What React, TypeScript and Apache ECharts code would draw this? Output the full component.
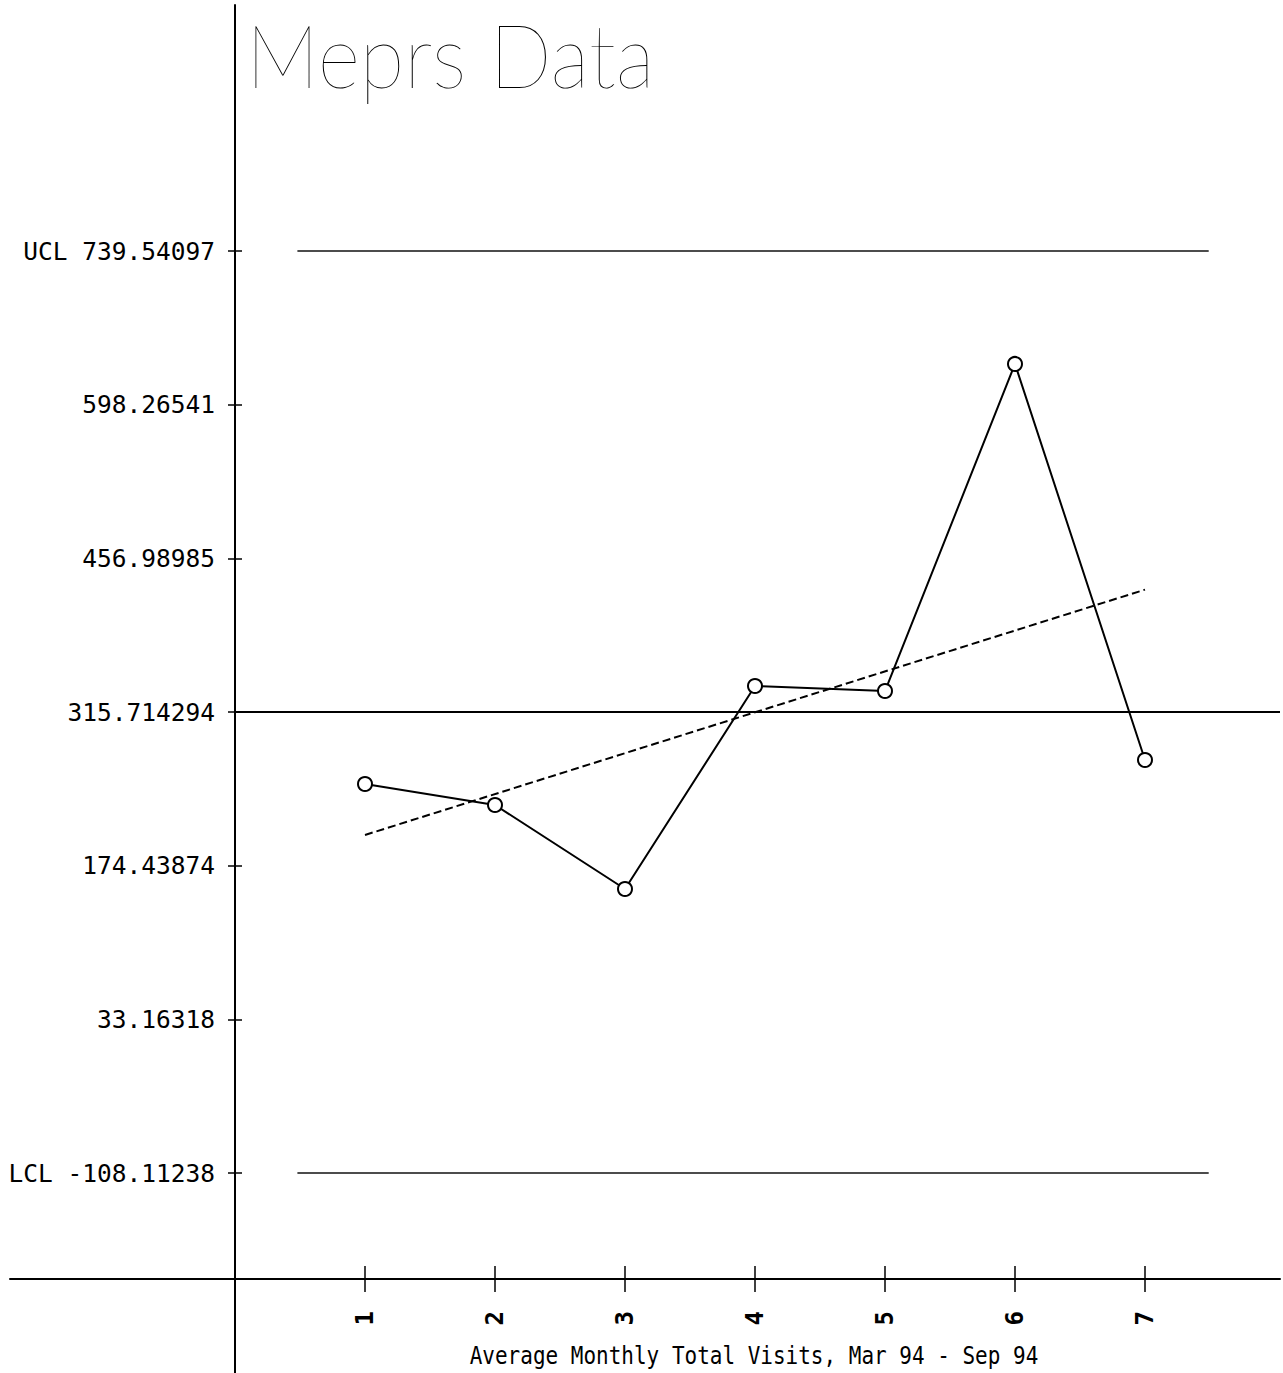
import React, { useEffect, useRef } from "react";
import * as echarts from "echarts";

// ---- data ----
const months = [1, 2, 3, 4, 5, 6, 7];
const monthLabels = ["1", "2", "3", "4", "5", "6", "7"];
const visits = [249.5, 230.2, 153.0, 339.6, 335.0, 635.7, 271.6];
const trendMonths = [1, 7];
const trendValues = [202.7, 428.2];
const yTickValues = [739.54097, 598.26541, 456.98985, 315.714294, 174.43874, 33.16318, -108.11238];
const yTickLabels = ["UCL 739.54097", "598.26541", "456.98985", "315.714294", "174.43874", "33.16318", "LCL -108.11238"];
const ucl = 739.54097;
const centerLine = 315.714294;
const lcl = -108.11238;
const limitSpan = [0.48, 7.49];
const titleText = "Meprs Data";
const xTitle = "Average Monthly Total Visits, Mar 94 - Sep 94";

const MONO = "'DejaVu Sans Mono', 'Liberation Mono', monospace";

export default function App() {
  const ref = useRef<HTMLDivElement>(null);
  useEffect(() => {
    if (!ref.current) return;
    const chart = echarts.init(ref.current, undefined, { renderer: "svg" });
    const yFmt = (v: number) => {
      let best = 0;
      let bd = Infinity;
      yTickValues.forEach((t, i) => {
        const d = Math.abs(t - v);
        if (d < bd) { bd = d; best = i; }
      });
      return yTickLabels[best];
    };
    const xFmt = (v: number) => {
      const i = months.findIndex((m) => Math.abs(m - v) < 1e-6);
      return i >= 0 ? monthLabels[i] : "";
    };
    const yMin = -291.96;
    const yMax = 965.7;
    const xMin = -1.7308;
    const xMax = 8.0385;
    const yOffset = -225; // moves the y axis from the grid's left edge to x = 0
    chart.setOption({
      animation: false,
      backgroundColor: "#ffffff",
      grid: { left: 10, right: 3, top: 5, bottom: 0, containLabel: false, outerBoundsMode: "none" },
      xAxis: [
        {
          type: "value",
          min: xMin,
          max: xMax,
          position: "bottom",
          offset: -94,
          splitLine: { show: false },
          axisLine: { show: true, onZero: false, lineStyle: { color: "#000", width: 2 } },
          axisTick: { show: true, customValues: months, length: 13, lineStyle: { color: "#000", width: 1.5 } },
          axisLabel: {
            show: true,
            customValues: months,
            rotate: 90,
            margin: 32,
            fontSize: 24,
            fontWeight: "bold",
            fontFamily: MONO,
            color: "#000",
            formatter: xFmt,
          },
        },
        {
          type: "value",
          min: xMin,
          max: xMax,
          position: "bottom",
          offset: -94,
          splitLine: { show: false },
          axisLine: { show: false, onZero: false },
          axisTick: { show: true, inside: true, customValues: months, length: 13, lineStyle: { color: "#000", width: 1.5 } },
          axisLabel: { show: false },
        },
      ],
      yAxis: [
        {
          type: "value",
          min: yMin,
          max: yMax,
          position: "left",
          offset: yOffset,
          splitLine: { show: false },
          axisLine: { show: true, onZero: false, lineStyle: { color: "#000", width: 2 } },
          axisTick: { show: true, customValues: yTickValues, length: 7, lineStyle: { color: "#000", width: 1.5 } },
          axisLabel: {
            show: true,
            customValues: yTickValues,
            margin: 20,
            fontSize: 24.5,
            fontFamily: MONO,
            color: "#000",
            formatter: yFmt,
          },
        },
        {
          type: "value",
          min: yMin,
          max: yMax,
          position: "left",
          offset: yOffset,
          splitLine: { show: false },
          axisLine: { show: false, onZero: false },
          axisTick: { show: true, inside: true, customValues: yTickValues, length: 7, lineStyle: { color: "#000", width: 1.5 } },
          axisLabel: { show: false },
        },
      ],
      series: [
        {
          name: "Visits",
          type: "line",
          xAxisIndex: 0,
          yAxisIndex: 0,
          data: months.map((m, i) => [m, visits[i]]),
          symbol: "emptyCircle",
          symbolSize: 14,
          lineStyle: { color: "#000", width: 2 },
          itemStyle: { color: "#000", borderColor: "#000", borderWidth: 2 },
          z: 5,
          markLine: {
            silent: true,
            symbol: ["none", "none"],
            label: { show: false },
            data: [
              [
                { coord: [0, centerLine], lineStyle: { color: "#000", width: 2, type: "solid" } },
                { coord: [xMax, centerLine] },
              ],
              [
                { coord: [limitSpan[0], ucl], lineStyle: { color: "#111", width: 1.5, type: "solid" } },
                { coord: [limitSpan[1], ucl] },
              ],
              [
                { coord: [limitSpan[0], lcl], lineStyle: { color: "#111", width: 1.5, type: "solid" } },
                { coord: [limitSpan[1], lcl] },
              ],
            ],
          },
        },
        {
          name: "Trend",
          type: "line",
          xAxisIndex: 0,
          yAxisIndex: 0,
          data: trendMonths.map((m, i) => [m, trendValues[i]]),
          symbol: "none",
          lineStyle: { color: "#000", width: 2, type: [8, 4] },
          z: 4,
        },
      ],
      graphic: [
        {
          type: "text",
          x: 246,
          y: 54,
          scaleX: 1.17,
          scaleY: 1.26,
          style: {
            text: titleText,
            fontFamily: "Lato, 'DejaVu Sans', sans-serif",
            fontWeight: 200,
            fontSize: 70,
            fill: "#000",
            align: "left",
            verticalAlign: "middle",
          },
        },
        {
          type: "text",
          x: 754,
          y: 1355,
          scaleY: 1.18,
          style: {
            text: xTitle,
            fontFamily: MONO,
            fontSize: 21,
            fill: "#000",
            align: "center",
            verticalAlign: "middle",
          },
        },
      ],
    });
    return () => chart.dispose();
  }, []);
  return (
    <div
      ref={ref}
      style={{ position: "absolute", left: 0, top: 0, width: 1283, height: 1373, background: "#fff" }}
    />
  );
}
